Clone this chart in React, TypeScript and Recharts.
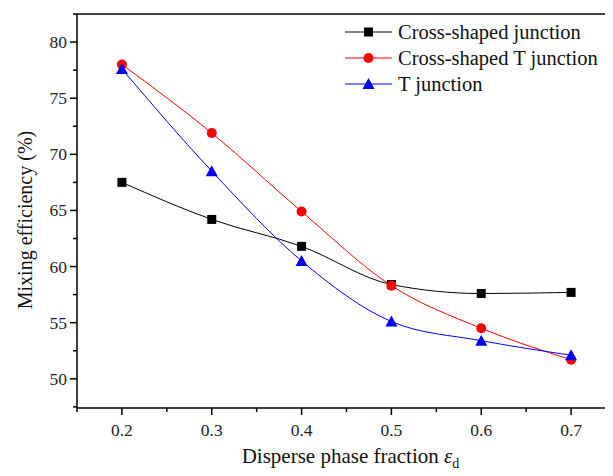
import React from "react";
import { LineChart, Line, XAxis, YAxis, ReferenceLine, Label } from "recharts";

const fractions = [0.2, 0.3, 0.4, 0.5, 0.6, 0.7];
const crossShaped = [67.5, 64.2, 61.8, 58.4, 57.6, 57.7];
const crossShapedT = [78.0, 71.9, 64.9, 58.3, 54.5, 51.7];
const tJunction = [77.6, 68.5, 60.5, 55.1, 53.4, 52.1];

const xTicks = [0.15, 0.2, 0.25, 0.3, 0.35, 0.4, 0.45, 0.5, 0.55, 0.6, 0.65, 0.7, 0.75];
const yTicks = [47.5, 50, 52.5, 55, 57.5, 60, 62.5, 65, 67.5, 70, 72.5, 75, 77.5, 80, 82.5];

const data = fractions.map((f, i) => ({
  x: f,
  cross: crossShaped[i],
  crossT: crossShapedT[i],
  t: tJunction[i],
}));

const FONT = "'Liberation Serif', 'Times New Roman', serif";

// major ticks carry a label, minor ones are just short marks
const isMajor = (v: number, step: number) =>
  Math.abs(Math.round(v / step) * step - v) < 1e-6;

const XTick = (props: any) => {
  const { x, y, payload } = props;
  const v = payload.value;
  const major = isMajor(v, 0.1);
  return (
    <g>
      <line x1={x} y1={y} x2={x} y2={y + (major ? 7 : 4)} stroke="#000" strokeWidth={1.5} />
      {major && (
        <text x={x} y={y + 28} textAnchor="middle" style={{ fontFamily: FONT, fontSize: 17.5 }} fill="#222">
          {v.toFixed(1)}
        </text>
      )}
    </g>
  );
};

const YTick = (props: any) => {
  const { x, y, payload } = props;
  const v = payload.value;
  const major = isMajor(v, 5);
  return (
    <g>
      <line x1={x} y1={y} x2={x - (major ? 7 : 4)} y2={y} stroke="#000" strokeWidth={1.5} />
      {major && (
        <text x={x - 10} y={y + 6} textAnchor="end" style={{ fontFamily: FONT, fontSize: 17.5 }} fill="#222">
          {v}
        </text>
      )}
    </g>
  );
};

const Square = (props: any) => {
  const { cx, cy } = props;
  return <rect x={cx - 4.5} y={cy - 4.5} width={9} height={9} fill="#000" />;
};

const Dot = (props: any) => {
  const { cx, cy } = props;
  return <circle cx={cx} cy={cy} r={5} fill="#ff0000" />;
};

const Tri = (props: any) => {
  const { cx, cy } = props;
  return <polygon points={`${cx},${cy - 6} ${cx - 6},${cy + 5} ${cx + 6},${cy + 5}`} fill="#0000ff" />;
};

const legendItems = [
  { name: "Cross-shaped junction", color: "#000", marker: "square" },
  { name: "Cross-shaped T junction", color: "#ff0000", marker: "circle" },
  { name: "T junction", color: "#0000ff", marker: "triangle" },
];

const LegendBox = () => (
  <div style={{ position: "absolute", top: 11, left: 337, fontFamily: FONT, fontSize: 20.5, color: "#111", whiteSpace: "nowrap" }}>
    {legendItems.map((it) => (
      <div key={it.name} style={{ display: "flex", alignItems: "center", height: 26 }}>
        <svg width={53} height={14}>
          <line x1={0} y1={7} x2={47} y2={7} stroke={it.color} strokeWidth={1} />
          {it.marker === "square" && <rect x={19} y={2.5} width={9} height={9} fill={it.color} />}
          {it.marker === "circle" && <circle cx={23.5} cy={7} r={5} fill={it.color} />}
          {it.marker === "triangle" && <polygon points="23.5,1 17.5,12 29.5,12" fill={it.color} />}
        </svg>
        <span>{it.name}</span>
      </div>
    ))}
  </div>
);

const XLabel = (props: any) => {
  const { viewBox } = props;
  const cx = viewBox.x + viewBox.width / 2 + 4;
  return (
    <text x={cx} y={viewBox.y + 55} textAnchor="middle" style={{ fontFamily: FONT, fontSize: 21 }} fill="#111">
      Disperse phase fraction{" "}
      <tspan fontStyle="italic">ε</tspan>
      <tspan fontSize={14} dy={5}>d</tspan>
    </text>
  );
};

const YLabel = (props: any) => {
  const { viewBox } = props;
  const cy = viewBox.y + viewBox.height / 2 + 9;
  const x = 24;
  return (
    <text
      x={x}
      y={cy}
      transform={`rotate(-90 ${x} ${cy})`}
      textAnchor="middle"
      style={{ fontFamily: FONT, fontSize: 20 }}
      fill="#111"
    >
      Mixing efficiency (%)
    </text>
  );
};

const App = () => {
  return (
    <div style={{ position: "relative", width: 605, overflow: "hidden" }}>
      <LineChart
        width={615}
        height={468}
        data={data}
        margin={{ top: 6, right: 7, left: 0, bottom: 0 }}
      >
        <XAxis
          dataKey="x"
          type="number"
          domain={[0.15, 0.75]}
          ticks={xTicks}
          interval={0}
          height={68}
          tickSize={0}
          tickMargin={0}
          tickLine={false}
          tick={<XTick />}
          axisLine={{ stroke: "#000", strokeWidth: 1.5 }}
        >
          <Label content={<XLabel />} />
        </XAxis>
        <YAxis
          type="number"
          domain={[47.4, 82.5]}
          ticks={yTicks}
          interval={0}
          width={69}
          tickSize={0}
          tickMargin={0}
          tickLine={false}
          tick={<YTick />}
          axisLine={{ stroke: "#000", strokeWidth: 1.5 }}
        >
          <Label content={<YLabel />} />
        </YAxis>
        <ReferenceLine y={82.5} stroke="#000" strokeWidth={1.5} />
        <ReferenceLine x={0.75} stroke="#000" strokeWidth={1.5} />
        <Line
          type="monotone"
          dataKey="cross"
          stroke="#000"
          strokeWidth={1}
          dot={<Square />}
          activeDot={false}
          isAnimationActive={false}
        />
        <Line
          type="monotone"
          dataKey="crossT"
          stroke="#ff0000"
          strokeWidth={1}
          dot={<Dot />}
          activeDot={false}
          isAnimationActive={false}
        />
        <Line
          type="monotone"
          dataKey="t"
          stroke="#0000ff"
          strokeWidth={1}
          dot={<Tri />}
          activeDot={false}
          isAnimationActive={false}
        />
      </LineChart>
      <LegendBox />
    </div>
  );
};

export default App;
